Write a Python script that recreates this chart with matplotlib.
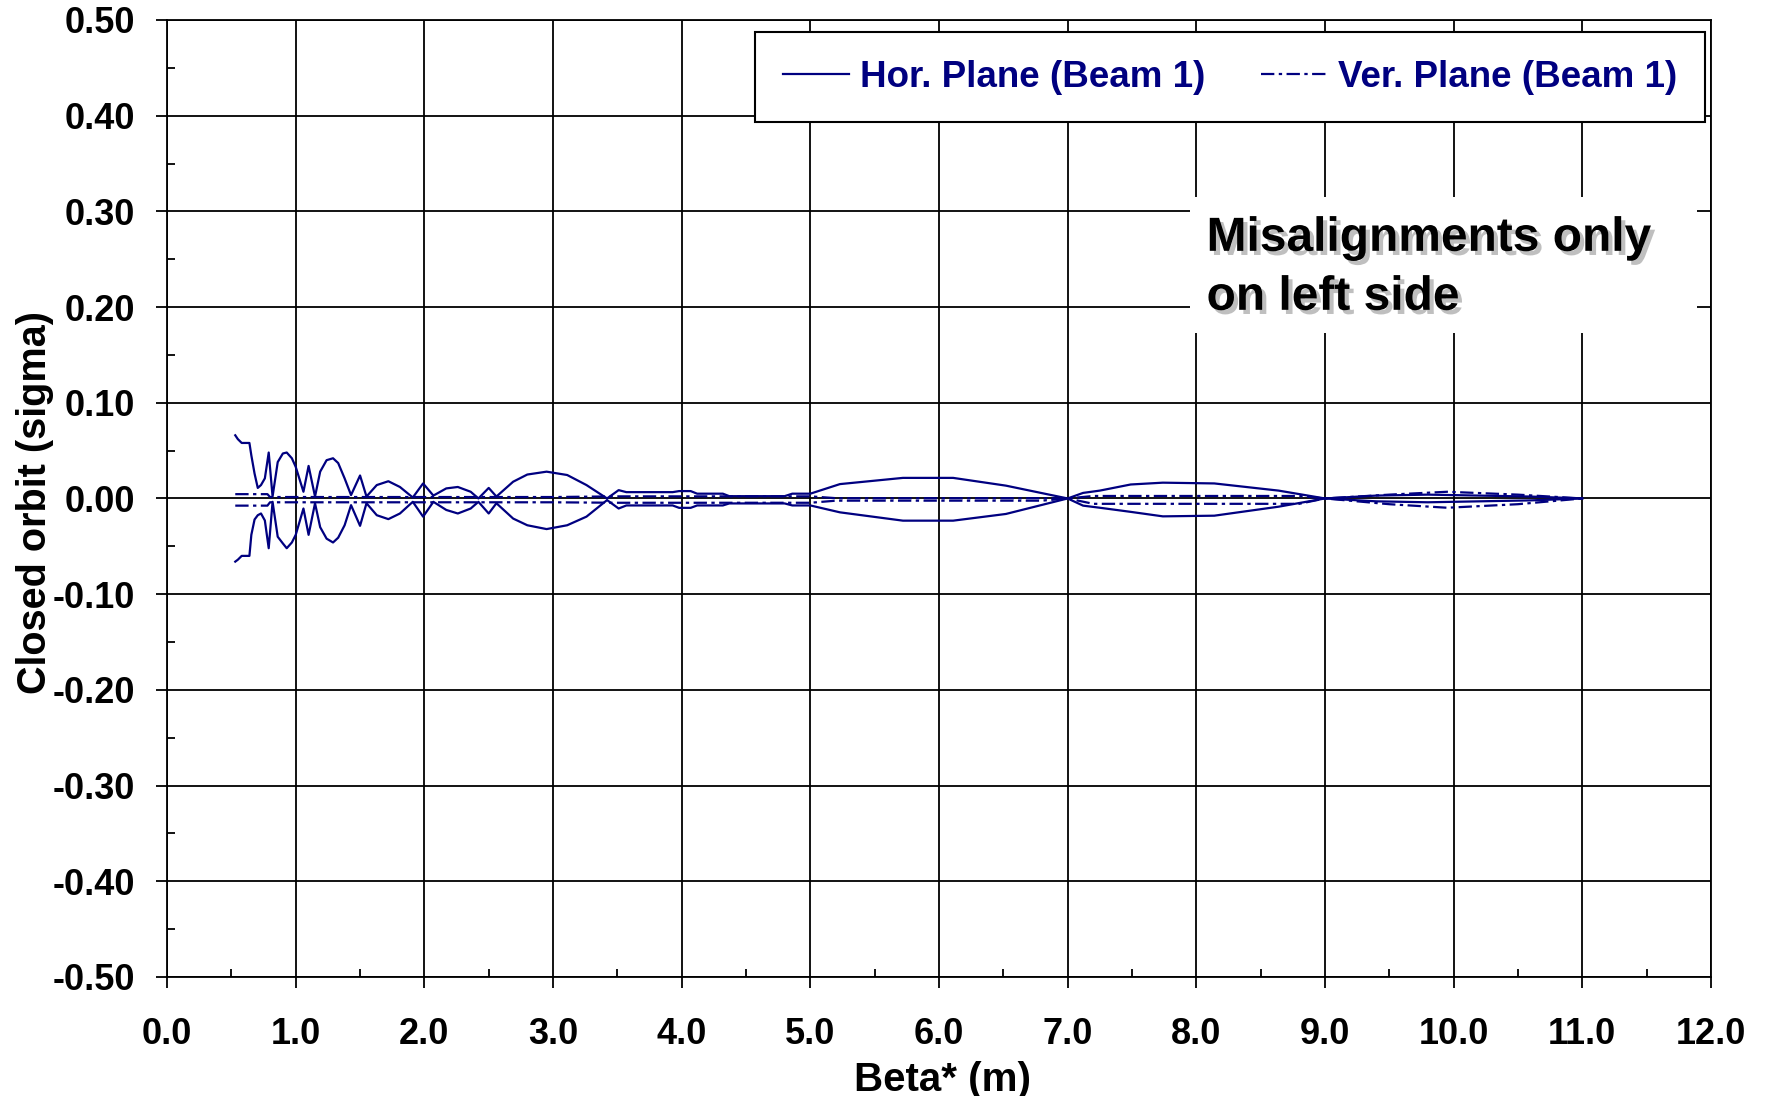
import numpy as np
import matplotlib
matplotlib.use('Agg')
import matplotlib.pyplot as plt
import matplotlib.patheffects as pe
from matplotlib.patches import Rectangle
from matplotlib.ticker import MultipleLocator

plt.rcParams['font.family'] = ['Liberation Sans', 'DejaVu Sans']
plt.rcParams['font.weight'] = 'bold'

# horizontal plane (beam 1): max / min closed orbit vs beta*
hor_x = [0.53, 0.55, 0.58, 0.64, 0.655, 0.68, 0.705, 0.73, 0.76, 0.79, 0.82, 0.86, 0.90, 0.93, 0.97,
         1.00, 1.06, 1.10, 1.15, 1.19, 1.24, 1.29, 1.33, 1.38, 1.43, 1.50, 1.55, 1.63, 1.72, 1.81, 1.91, 1.99,
         2.07, 2.17, 2.26, 2.36, 2.42, 2.50, 2.56, 2.69, 2.80, 2.95,
         3.11, 3.26, 3.42, 3.51, 3.57, 3.93, 3.98, 4.07, 4.12, 4.32, 4.37, 4.80, 4.86,
         5.00, 5.23, 5.72, 6.11, 6.52,
         7.00, 7.12, 7.25, 7.49, 7.74, 8.14, 8.64,
         9.00, 9.40, 9.80, 10.20, 10.60, 11.00]
hor_max = [0.066, 0.062, 0.058, 0.058, 0.045, 0.026, 0.011, 0.014, 0.021, 0.048, 0.002, 0.038, 0.047, 0.048, 0.042,
           0.033, 0.007, 0.034, 0.002, 0.028, 0.040, 0.042, 0.037, 0.021, 0.0035, 0.024, 0.002, 0.014, 0.018, 0.012, 0.001, 0.0157,
           0.003, 0.0105, 0.012, 0.007, 0.0, 0.011, 0.002, 0.0175, 0.025, 0.028,
           0.0245, 0.014, 0.0, 0.0087, 0.0066, 0.0066, 0.0077, 0.0077, 0.005, 0.005, 0.0024, 0.0024, 0.005,
           0.005, 0.015, 0.0215, 0.0215, 0.0134,
           0.0, 0.0058, 0.0082, 0.0146, 0.0165, 0.0157, 0.0082,
           0.0, 0.003, 0.004, 0.003, 0.002, 0.0]
hor_min = [-0.066, -0.064, -0.060, -0.060, -0.038, -0.022, -0.0175, -0.0157, -0.023, -0.052, -0.0035, -0.040, -0.047, -0.052, -0.046,
           -0.038, -0.0105, -0.038, -0.005, -0.030, -0.042, -0.046, -0.041, -0.028, -0.007, -0.0286, -0.005, -0.0175, -0.0216, -0.0157, -0.0035, -0.019,
           -0.0035, -0.012, -0.0157, -0.0105, -0.0035, -0.0157, -0.005, -0.021, -0.028, -0.032,
           -0.028, -0.019, -0.0017, -0.0105, -0.0073, -0.0073, -0.0098, -0.0098, -0.0073, -0.0073, -0.0052, -0.0052, -0.0073,
           -0.0073, -0.0145, -0.0232, -0.0232, -0.0162,
           0.0, -0.0075, -0.0097, -0.014, -0.0187, -0.018, -0.0086,
           0.0, -0.003, -0.004, -0.003, -0.002, 0.0]

# vertical plane (beam 1)
ver_x = [0.53, 0.78, 0.80, 3.00, 3.50, 5.00, 5.20, 6.80, 7.00, 7.20, 8.80, 9.00, 9.50, 9.95, 10.50, 11.00]
ver_max = [0.0045, 0.0045, 0.0015, 0.0015, 0.0022, 0.0022, 0.0003, 0.0003, 0.0, 0.0026, 0.0026, 0.0, 0.004, 0.007, 0.004, 0.0]
ver_min = [-0.0075, -0.0075, -0.004, -0.004, -0.0045, -0.0045, -0.0023, -0.0023, 0.0, -0.0056, -0.0056, 0.0, -0.006, -0.0097, -0.006, 0.0]

navy = '#000080'
ver_style = (0, (6, 2, 1.5, 2))

fig = plt.figure(figsize=(17.68, 10.96), dpi=100)
ax = fig.add_axes([0.0945, 0.1086, 0.8732, 0.8732])

ax.plot(hor_x, hor_max, color=navy, lw=1.6, label='Hor. Plane (Beam 1)')
ax.plot(hor_x, hor_min, color=navy, lw=1.6)
ax.plot(ver_x, ver_max, color=navy, lw=1.6, ls=ver_style, label='Ver. Plane (Beam 1)')
ax.plot(ver_x, ver_min, color=navy, lw=1.6, ls=ver_style)

ax.set_xlim(0, 12)
ax.set_ylim(-0.5, 0.5)
xt = np.arange(0, 12.01, 1.0)
yt = np.round(np.arange(-0.5, 0.51, 0.1), 2)
ax.set_xticks(xt)
ax.set_xticklabels([f'{v:.1f}' for v in xt])
ax.set_yticks(yt)
ax.set_yticklabels([f'{v + 0.0:.2f}' for v in yt])
ax.xaxis.set_minor_locator(MultipleLocator(0.5))
ax.yaxis.set_minor_locator(MultipleLocator(0.05))
ax.grid(True, which='major', color='black', lw=1.3)
ax.set_axisbelow(True)
ax.tick_params(which='major', direction='out', length=8, width=1.3, labelsize=26, pad=15)
ax.tick_params(axis='x', which='major', pad=21)
ax.tick_params(which='minor', direction='in', length=6, width=1.3)
for s in ax.spines.values():
    s.set_linewidth(1.3)

ax.set_xlabel('Beta* (m)', fontsize=29, fontweight='bold')
ax.set_ylabel('Closed orbit (sigma)', fontsize=28.5, fontweight='bold')
ax.xaxis.label.set_va('center')
ax.yaxis.label.set_va('center')
ax.xaxis.set_label_coords(0.5026, -0.108)
ax.yaxis.set_label_coords(-0.0855, 0.496)

leg = ax.legend(loc='upper right', bbox_to_anchor=(0.9961, 0.9875), ncol=2, fontsize=26.5,
                frameon=True, fancybox=False, edgecolor='black', framealpha=1,
                handlelength=1.8, handletextpad=0.3, columnspacing=1.5,
                borderpad=0.75, borderaxespad=0)
leg.get_frame().set_linewidth(1.5)
for t in leg.get_texts():
    t.set_color(navy)

ax.add_patch(Rectangle((7.95, 0.173), 3.94, 0.142, facecolor='white', edgecolor='none', zorder=2))
ax.text(8.08, 0.241, 'Misalignments only\non left side', fontsize=34.5, fontweight='bold',
        va='center', ha='left', linespacing=1.4, zorder=3,
        path_effects=[pe.SimplePatchShadow(offset=(3, -3), shadow_rgbFace='gray', alpha=0.5), pe.Normal()])

fig.savefig('out.png', dpi=100)
